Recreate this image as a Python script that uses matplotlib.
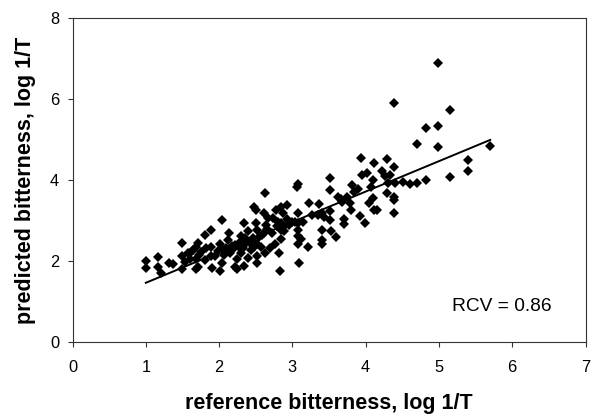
import numpy as np
import matplotlib
matplotlib.use("Agg")
import matplotlib.pyplot as plt

plt.rcParams["font.family"] = ["Liberation Sans", "DejaVu Sans"]

# reference bitterness (log 1/T) vs predicted bitterness (log 1/T)
ref_x = [1.00, 1.00, 1.17, 1.17, 1.21, 1.32, 1.37, 1.49, 1.49, 1.49,
         1.54, 1.58, 1.60, 1.64, 1.68, 1.68, 1.68, 1.71, 1.71, 1.73,
         1.81, 1.81, 1.82, 1.89, 1.89, 1.89, 1.90, 1.94, 2.01, 2.01,
         2.04, 2.04, 2.07, 2.09, 2.12, 2.13, 2.15, 2.19, 2.22, 2.22,
         2.24, 2.25, 2.27, 2.30, 2.30, 2.32, 2.34, 2.34, 2.36, 2.37,
         2.40, 2.40, 2.43, 2.44, 2.46, 2.48, 2.48, 2.50, 2.51, 2.52,
         2.52, 2.52, 2.52, 2.55, 2.57, 2.61, 2.61, 2.63, 2.63, 2.66,
         2.67, 2.70, 2.73, 2.76, 2.78, 2.80, 2.82, 2.83, 2.84, 2.84,
         2.84, 2.85, 2.87, 2.89, 2.92, 2.92, 2.99, 3.07, 3.08, 3.08,
         3.08, 3.08, 3.08, 3.08, 3.09, 3.12, 3.21, 3.23, 3.27, 3.35,
         3.37, 3.40, 3.40, 3.40, 3.40, 3.43, 3.51, 3.52, 3.52, 3.52,
         3.53, 3.60, 3.62, 3.66, 3.68, 3.70, 3.70, 3.74, 3.79, 3.80,
         3.81, 3.84, 3.89, 3.92, 3.94, 3.95, 3.99, 4.02, 4.04, 4.07,
         4.10, 4.10, 4.11, 4.11, 4.15, 4.22, 4.26, 4.29, 4.29, 4.30,
         4.33, 4.39, 4.39, 4.39, 4.39, 4.39, 4.40, 4.51, 4.61, 4.70,
         4.70, 4.82, 4.83, 4.99, 4.99, 4.99, 5.15, 5.15, 5.40, 5.40,
         5.69,
         # extra points hidden in the dense cluster
         1.62, 1.76, 1.98, 2.06, 2.17, 2.28, 2.35, 2.45, 2.58, 2.64,
         2.72, 2.79, 2.88, 2.95, 3.04, 3.15]
pred_y = [2.01, 1.84, 2.11, 1.87, 1.72, 1.97, 1.93, 2.46, 2.12, 1.82,
          1.99, 2.20, 2.07, 2.28, 2.36, 2.07, 1.80, 2.46, 1.87, 2.16,
          2.03, 2.65, 2.32, 2.77, 2.36, 2.12, 1.84, 2.12, 2.42, 1.76,
          3.02, 1.95, 2.16, 2.32, 2.53, 2.69, 2.20, 2.30, 2.40, 1.87,
          1.80, 2.07, 2.36, 2.20, 2.63, 2.32, 2.94, 1.89, 2.44, 2.53,
          2.76, 2.09, 2.28, 2.44, 2.58, 3.35, 2.35, 3.27, 2.94, 2.77,
          2.44, 2.12, 1.95, 2.61, 2.36, 2.69, 3.19, 3.68, 2.20, 2.81,
          3.06, 2.32, 3.06, 2.42, 3.28, 2.98, 2.20, 1.77, 3.35, 2.77,
          2.54, 2.94, 3.19, 2.87, 3.39, 3.04, 2.98, 3.84, 3.90, 3.19,
          2.95, 2.77, 2.63, 2.42, 1.95, 2.54, 2.36, 3.45, 3.14, 3.14,
          3.42, 3.19, 2.77, 2.53, 2.44, 3.10, 4.07, 3.76, 3.25, 3.02,
          2.76, 2.59, 3.60, 3.53, 3.47, 3.04, 2.92, 3.60, 3.45, 3.27,
          3.88, 3.72, 3.78, 3.12, 4.56, 4.13, 2.94, 4.19, 3.43, 3.84,
          4.01, 3.56, 4.44, 3.27, 3.27, 4.24, 4.12, 4.52, 3.68, 3.94,
          4.13, 5.92, 4.34, 3.60, 3.51, 3.19, 3.94, 3.97, 3.91, 4.90,
          3.94, 4.01, 5.30, 6.89, 5.35, 4.83, 5.74, 4.09, 4.50, 4.24,
          4.86,
          2.24, 2.22, 2.26, 2.28, 2.38, 2.48, 2.58, 2.50, 2.66, 2.90,
          2.70, 2.88, 2.74, 2.90, 2.96, 2.98]

# regression line endpoints
fit_x = [1.0, 5.7]
fit_y = [1.47, 5.0]

fig = plt.figure(figsize=(5.91, 4.19), dpi=100)
ax = fig.add_axes([0.1227, 0.183, 0.868, 0.773])

ax.plot(ref_x, pred_y, linestyle="none", marker="D", markersize=5.0,
        color="black", markeredgewidth=0)
ax.plot(fit_x, fit_y, color="black", lw=1.4)

ax.set_xlim(0, 7)
ax.set_ylim(0, 8)
ax.set_xticks(np.arange(0, 8, 1))
ax.set_yticks(np.arange(0, 9, 2))
ax.tick_params(direction="out", length=3.6, width=0.8, labelsize=11.8,
               colors="#333333", labelcolor="black")
ax.tick_params(axis="x", pad=9)
ax.tick_params(axis="y", pad=6)

for side in ["left", "bottom", "top", "right"]:
    ax.spines[side].set_linewidth(0.8)
    ax.spines[side].set_color("#333333")

ax.set_xlabel("reference bitterness, log 1/T", fontsize=15.5, fontweight="bold", labelpad=13)
ax.set_ylabel("predicted bitterness, log 1/T", fontsize=15.5, fontweight="bold", labelpad=10)

ax.text(5.18, 0.88, "RCV = 0.86", fontsize=13.8, va="center", ha="left")

fig.savefig("out.png", dpi=100)
